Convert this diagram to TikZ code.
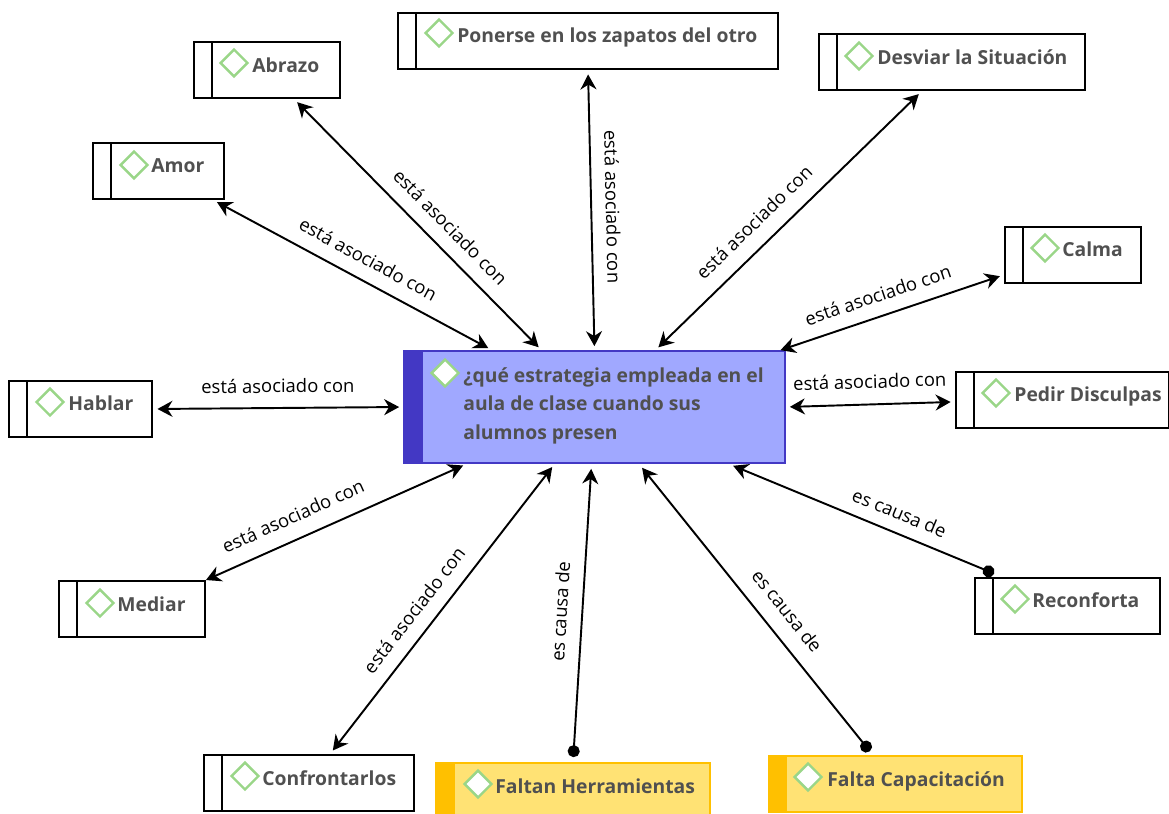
\documentclass[tikz,border=0pt]{standalone}
\usepackage{fontspec}
\setmainfont{Open Sans}
\usetikzlibrary{arrows.meta,shapes.geometric}
\definecolor{txtgray}{HTML}{505050}
\definecolor{mainfill}{HTML}{A0A8FF}
\definecolor{mainbar}{HTML}{4338C4}
\definecolor{causefill}{HTML}{FFE274}
\definecolor{causebar}{HTML}{FFC000}
\definecolor{gemgreen}{HTML}{9AD688}
\tikzset{mn/.append style={draw,line width=1.1pt,minimum height=1.12cm,inner sep=0pt,
  path picture={\draw[line width=1.1pt] ([xshift=0.36cm]path picture bounding box.north west) -- ([xshift=0.36cm]path picture bounding box.south west);}}}
\tikzset{bar/.append style={draw=#1,line width=1pt,inner sep=0pt}}
\tikzset{gg/.append style={diamond,draw=gemgreen,line width=1.4pt,fill=white,minimum size=0.56cm,inner sep=0pt}}
\tikzset{tt/.append style={anchor=base west,inner sep=0pt,text=txtgray,font=\bfseries\fontsize{11}{16.3}\selectfont}}
\tikzset{lk/.append style={{Stealth[length=0.3cm,width=0.32cm]}-{Stealth[length=0.3cm,width=0.32cm]},line width=1.1pt,shorten <=0.09cm,shorten >=0.08cm}}
\tikzset{ck/.append style={{Circle[length=0.24cm]}-{Stealth[length=0.3cm,width=0.32cm]},line width=1.1pt,shorten <=0.1cm,shorten >=0.1cm}}
\tikzset{ll/.append style={sloped,inner sep=0pt,font=\fontsize{10.5}{12}\selectfont}}

\begin{document}
\begin{tikzpicture}[x=0.02cm,y=-0.02cm]
                \useasboundingbox (0,0) rectangle (1169,814);
                % main box
                \node[bar=mainbar,fill=mainfill,minimum width=7.62cm,minimum height=2.24cm] (main) at (594.5,407) {};
                \node[fill=mainbar,minimum width=0.36cm,minimum height=2.24cm,inner sep=0pt] (mainb) at (413.5,407) {};
                \node[gg] (maing) at (445,373) {};
                \node[tt,anchor=north west,align=left] (maint) at (463,367) {¿qué estrategia empleada en el\\aula de clase cuando sus\\alumnos presen};
                % plain boxes
                \node[mn,minimum width=2.92cm] (abrazo) at (267,70) {};
                \node[gg] (abrazog) at (234,63) {};
                \node[tt] (abrazot) at (252,72.5) {Abrazo};
                \node[mn,minimum width=7.6cm] (ponerse) at (588,41) {};
                \node[gg] (ponerseg) at (439,33) {};
                \node[tt] (ponerset) at (457,43) {Ponerse en los zapatos del otro};
                \node[mn,minimum width=5.32cm] (desviar) at (952,62) {};
                \node[gg] (desviarg) at (859,56) {};
                \node[tt] (desviart) at (877,64.5) {Desviar la Situación};
                \node[mn,minimum width=2.62cm] (amor) at (158.5,171) {};
                \node[gg] (amorg) at (134,165) {};
                \node[tt] (amort) at (151,173) {Amor};
                \node[mn,minimum width=2.72cm] (calma) at (1073,255) {};
                \node[gg] (calmag) at (1045,248) {};
                \node[tt] (calmat) at (1062,256) {Calma};
                \node[mn,minimum width=2.86cm] (hablar) at (80.5,409) {};
                \node[gg] (hablarg) at (50,402) {};
                \node[tt] (hablart) at (68,410) {Hablar};
                \node[mn,minimum width=4.26cm] (pedir) at (1062.5,400) {};
                \node[gg] (pedirg) at (996,393) {};
                \node[tt] (pedirt) at (1014,401) {Pedir Disculpas};
                \node[mn,minimum width=3.7cm] (reconf) at (1067.5,606) {};
                \node[gg] (reconfg) at (1015,599) {};
                \node[tt] (reconft) at (1032,607) {Reconforta};
                \node[mn,minimum width=2.92cm] (mediar) at (132,609) {};
                \node[gg] (mediarg) at (100,603) {};
                \node[tt] (mediart) at (117,611) {Mediar};
                \node[mn,minimum width=4.2cm] (confr) at (309,783) {};
                \node[gg] (confrg) at (245,776) {};
                \node[tt] (confrt) at (262,785) {Confrontarlos};
                % yellow boxes
                \node[bar=causebar,fill=causefill,minimum width=5.48cm,minimum height=1.12cm] (faltan) at (573,791) {};
                \node[fill=causebar,minimum width=0.38cm,minimum height=1.12cm,inner sep=0pt] (faltanb) at (445.5,791) {};
                \node[gg] (faltang) at (478,784) {};
                \node[tt] (faltant) at (495,793) {Faltan Herramientas};
                \node[bar=causebar,fill=causefill,minimum width=5.06cm,minimum height=1.12cm] (falta) at (895.5,784) {};
                \node[fill=causebar,minimum width=0.36cm,minimum height=1.12cm,inner sep=0pt] (faltab) at (778,784) {};
                \node[gg] (faltag) at (808,777) {};
                \node[tt] (faltat) at (827,786) {Falta Capacitación};
                % connectors
                \path (abrazo.-47) edge[lk] node[ll,above=0.27cm,pos=0.57]{está asociado con} (main.133.7);
                \path (ponerse.south) edge[lk] node[ll,above=0.27cm,pos=0.49]{está asociado con} (main.north);
                \path (desviar.224) edge[lk] node[ll,above=0.3cm,pos=0.57]{está asociado con} (main.43.3);
                \path (amor.-28.3) edge[lk] node[ll,above=0.27cm,pos=0.52]{está asociado con} (main.151.6);
                \path (calma.196.6) edge[lk,shorten >=0pt] node[ll,above=0.26cm,pos=0.534]{está asociado con} (main.17.1);
                \path (pedir.181.6) edge[lk] node[ll,above=0.3cm,pos=0.5]{está asociado con} (main.0.9);
                \path (hablar.east) edge[lk] node[ll,above=0.28cm,pos=0.5]{está asociado con} (main.west);
                \path (mediar.north east) edge[lk,shorten <=0pt] node[ll,above=0.3cm,pos=0.37]{está asociado con} (main.204.4);
                \path (confr.54.5) edge[lk] node[ll,above=0.27cm,pos=0.45]{está asociado con} (main.235.5);
                \path (faltan.north) edge[ck] node[ll,above=0.28cm,pos=0.5]{es causa de} (main.267.5);
                \path (falta.128.8) edge[ck] node[ll,above=0.31cm,pos=0.445]{es causa de} (main.-52.2);
                \path (reconf.156.9) edge[ck,shorten <=0.18cm] node[ll,above=0.24cm,pos=0.404]{es causa de} (main.-23.4);
            \end{tikzpicture}
\end{document}
